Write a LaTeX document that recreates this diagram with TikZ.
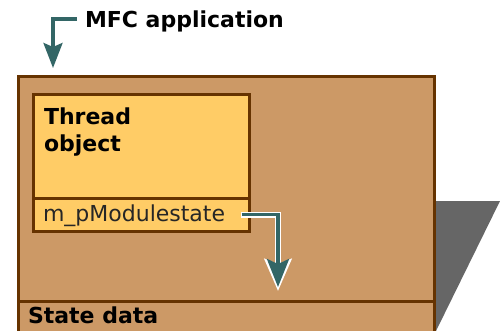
\documentclass[tikz,border=0pt]{standalone}
\usepackage{fontspec}
\setmainfont{DejaVu Sans}
\usetikzlibrary{arrows.meta}
\definecolor{outerfill}{HTML}{CC9966}
\definecolor{innerfill}{HTML}{FFCC66}
\definecolor{brownline}{HTML}{663300}
\definecolor{shadowgray}{HTML}{666666}
\definecolor{tealarrow}{HTML}{336666}
\tikzset{
  boxshape/.style={draw=brownline, line width=3pt, inner sep=0pt, outer sep=0pt, anchor=north west},
  boldlbl/.style={inner sep=0pt, outer sep=0pt, font=\fontsize{22}{27}\selectfont\bfseries, text=black},
  plainlbl/.style={inner sep=0pt, outer sep=0pt, font=\fontsize{22}{27}\selectfont, text=black!85},
  connector/.style={draw=tealarrow, line width=3.3pt, line join=miter},
}
\begin{document}
\begin{tikzpicture}[x=1pt,y=-1pt]
\useasboundingbox (0,0) rectangle (500,331);
\clip (0,0) rectangle (500,331);
% shadow
\fill[shadowgray] (436,201) -- (500,201) -- (436,331) -- cycle;
% boxes
\node[boxshape, fill=outerfill, minimum width=416pt, minimum height=270pt] (app) at (18.5,76.5) {};
\node[boxshape, fill=outerfill, minimum width=416pt, minimum height=50pt] (state) at (18.5,301.5) {};
\node[boxshape, fill=innerfill, minimum width=216pt, minimum height=103.5pt] (thread) at (33.5,94.5) {};
\node[boxshape, fill=innerfill, minimum width=216pt, minimum height=33.5pt] (mp) at (33.5,198) {};
% labels
\node[boldlbl, anchor=base west] (statelbl) at (28,323) {State data};
\node[boldlbl, anchor=north west, align=left] (threadlbl) at (44,108) {Thread\\object};
\node[plainlbl, anchor=base west] (mplbl) at (43,221) {m\_pModulestate};
\node[boldlbl, anchor=base west] (mfc) at (85,28) {MFC application};
% connectors
\coordinate (mfcstart) at ([xshift=-8pt,yshift=9pt]mfc.base west);
\coordinate (apptop) at (53,68);
\draw[connector, -{Stealth[length=25pt,width=19pt,inset=4pt]}] (mfcstart) -| (apptop);
\coordinate (mpstart) at ([xshift=-8pt]mp.east);
\coordinate (statetop) at (278,291);
\coordinate (statetopin) at (278,287);
\draw[draw=white, line width=5.8pt, line join=miter, -{Stealth[length=32pt,width=27pt,inset=5pt]}, white] ([xshift=-1pt]mpstart) -| (statetop);
\draw[connector, -{Stealth[length=28pt,width=22pt,inset=5pt]}, tealarrow] (mpstart) -| (statetopin);
\end{tikzpicture}
\end{document}
